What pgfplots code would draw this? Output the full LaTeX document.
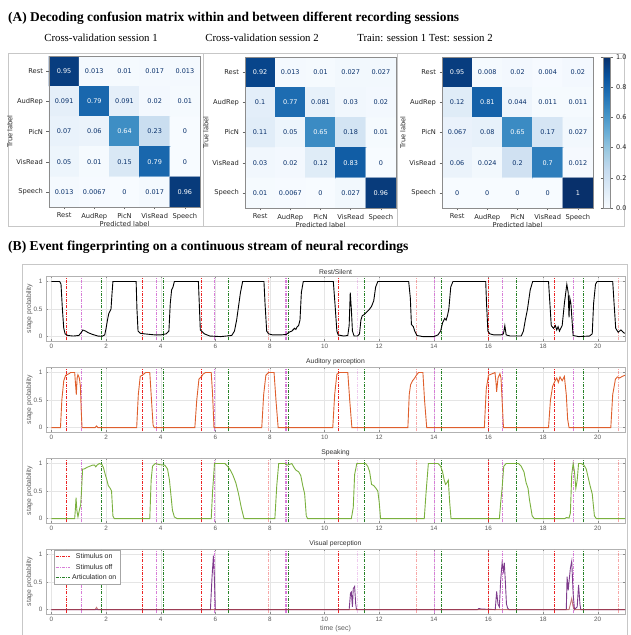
\documentclass[border=0pt]{standalone}
\usepackage{pgfplots}
\pgfplotsset{compat=1.18}
\usepackage{pgfplotstable}
\usepackage{fontspec}
\setmainfont{Liberation Serif}
\newfontfamily\dvs{DejaVu Sans}
\newfontfamily\lsf{Liberation Sans}
\definecolor{cmdark}{RGB}{8,48,107}
\definecolor{mred}{RGB}{235,35,35}
\definecolor{mmag}{RGB}{215,125,215}
\definecolor{mgreen}{RGB}{40,130,40}
\definecolor{aud}{RGB}{222,95,45}
\definecolor{spk}{RGB}{122,176,62}
\definecolor{vis}{RGB}{126,60,140}
\definecolor{vis2}{RGB}{170,60,60}
\definecolor{tsgray}{RGB}{90,90,90}
\pgfplotsset{colormap={blues}{rgb255=(247,251,255) rgb255=(222,235,247) rgb255=(198,219,239) rgb255=(158,202,225) rgb255=(107,174,214) rgb255=(66,146,198) rgb255=(33,113,181) rgb255=(8,81,156) rgb255=(8,48,107)}}

\pgfplotstableread{
x y C
0 0 0.95
1 0 0.013
2 0 0.01
3 0 0.017
4 0 0.013
0 1 0.091
1 1 0.79
2 1 0.091
3 1 0.02
4 1 0.01
0 2 0.07
1 2 0.06
2 2 0.64
3 2 0.23
4 2 0
0 3 0.05
1 3 0.01
2 3 0.15
3 3 0.79
4 3 0
0 4 0.013
1 4 0.0067
2 4 0
3 4 0.017
4 4 0.96
}\mA
\pgfplotstableread{
x y C
0 0 0.92
1 0 0.013
2 0 0.01
3 0 0.027
4 0 0.027
0 1 0.1
1 1 0.77
2 1 0.081
3 1 0.03
4 1 0.02
0 2 0.11
1 2 0.05
2 2 0.65
3 2 0.18
4 2 0.01
0 3 0.03
1 3 0.02
2 3 0.12
3 3 0.83
4 3 0
0 4 0.01
1 4 0.0067
2 4 0
3 4 0.027
4 4 0.96
}\mB
\pgfplotstableread{
x y C
0 0 0.95
1 0 0.008
2 0 0.02
3 0 0.004
4 0 0.02
0 1 0.12
1 1 0.81
2 1 0.044
3 1 0.011
4 1 0.011
0 2 0.067
1 2 0.08
2 2 0.65
3 2 0.17
4 2 0.027
0 3 0.06
1 3 0.024
2 3 0.2
3 3 0.7
4 3 0.012
0 4 0
1 4 0
2 4 0
3 4 0
4 4 1
}\mC

\pgfplotsset{
  cmaxis/.style={scale only axis, width=151pt, height=151pt, anchor=north west,
    xmin=-0.5, xmax=4.5, ymin=-0.5, ymax=4.5, y dir=reverse, enlargelimits=false,
    axis on top, colormap name=blues, point meta min=0, point meta max=1,
    xtick={0,...,4}, ytick={0,...,4},
    xticklabels={Rest,AudRep,PicN,VisRead,Speech},
    yticklabels={Rest,AudRep,PicN,VisRead,Speech},
    tick pos=left, tick align=outside, major tick length=2.5pt,
    tick style={black!60, line width=0.4pt},
    axis line style={black!45, line width=0.5pt},
    ticklabel style={font=\dvs\fontsize{6.7}{7}\selectfont, text=black!85},
    xlabel={Predicted label}, ylabel={True label},
    label style={font=\dvs\fontsize{6.7}{7}\selectfont, text=black!85},
    xlabel style={yshift=5pt}, ylabel style={yshift=-3pt},
  },
  cmtext/.style={draw=none, mark=none, point meta=explicit symbolic,
    visualization depends on={\thisrow{C}\as\cval},
    nodes near coords={\ifdim\cval pt>0.5pt\color{white}\else\color{cmdark}\fi\pgfplotspointmeta},
    nodes near coords align={center},
    every node near coord/.append style={font=\dvs\fontsize{6.5}{7}\selectfont, inner sep=0pt, anchor=center}},
  tsaxis/.style={scale only axis, width=579pt, height=65pt, anchor=north west,
    xmin=-0.2, xmax=21, ymin=-0.08, ymax=1.1,
    xtick={0,2,...,20}, ytick={0,0.5,1},
    unbounded coords=jump,
    grid=major, grid style={black!10, line width=0.3pt},
    axis line style={black!30, line width=0.4pt},
    tick style={black!45, line width=0.3pt}, major tick length=2pt, tick align=inside,
    /pgf/number format/assume math mode=true,
    ticklabel style={font=\lsf\fontsize{6.3}{7}\selectfont, text=tsgray},
    ylabel={stage probability},
    ylabel style={font=\lsf\fontsize{6.8}{7}\selectfont, text=tsgray, at={(axis description cs:-0.017,0.5)}, anchor=south},
    xlabel style={font=\lsf\fontsize{7}{8}\selectfont, text=tsgray, yshift=3pt},
    title style={font=\lsf\fontsize{6.8}{8}\selectfont, text=black!80, yshift=-5.5pt, inner sep=1pt},
    legend style={at={(0.013,0.99)}, anchor=north west, font=\lsf\fontsize{7}{8}\selectfont, draw=black!35, fill=white, inner sep=1.5pt, row sep=0pt, text=black!85},
    legend image code/.code={\draw[#1] (0pt,0pt) -- (14pt,0pt);},
  },
  evon/.style={mred, line width=0.6pt, dash pattern=on 3pt off 1.3pt on 0.8pt off 1.3pt},
  evoff/.style={mmag, line width=0.8pt, dash pattern=on 3pt off 1.3pt on 0.8pt off 1.3pt},
  evart/.style={mgreen, line width=0.6pt, dash pattern=on 3pt off 1.3pt on 0.8pt off 1.3pt},
}

\newcommand{\events}{%
\addplot[evon] coordinates {(0.53,-1)(0.53,2)(nan,nan)(3.33,-1)(3.33,2)(nan,nan)(5.47,-1)(5.47,2)(nan,nan)(10.51,-1)(10.51,2)(nan,nan)(16.0,-1)(16.0,2)(nan,nan)(18.42,-1)(18.42,2)};
\addplot[evoff] coordinates {(1.11,-1)(1.11,2)(nan,nan)(3.86,-1)(3.86,2)(nan,nan)(5.95,-1)(5.95,2)(nan,nan)(8.57,-1)(8.57,2)(nan,nan)(8.62,-1)(8.62,2)(nan,nan)(14.03,-1)(14.03,2)(nan,nan)(16.51,-1)(16.51,2)(nan,nan)(19.12,-1)(19.12,2)};
\addplot[evart] coordinates {(1.81,-1)(1.81,2)(nan,nan)(4.1,-1)(4.1,2)(nan,nan)(6.48,-1)(6.48,2)(nan,nan)(8.69,-1)(8.69,2)(nan,nan)(11.47,-1)(11.47,2)(nan,nan)(14.26,-1)(14.26,2)(nan,nan)(17.01,-1)(17.01,2)(nan,nan)(19.48,-1)(19.48,2)};
\addplot[evon, opacity=0.4, forget plot] coordinates {(7.93,-1)(7.93,2)(nan,nan)(13.36,-1)(13.36,2)(nan,nan)(20.76,-1)(20.76,2)};
\addplot[evoff, opacity=0.4, forget plot] coordinates {(11.22,-1)(11.22,2)};
}

\begin{document}
\begin{tikzpicture}
\useasboundingbox (0pt,0pt) rectangle (631pt,-635pt);
% titles
\node[anchor=base west, inner sep=0, font=\bfseries\fontsize{13.4}{15}\selectfont] at (8pt,-21pt) {(A) Decoding confusion matrix within and between different recording sessions};
\node[anchor=base, inner sep=0, font=\fontsize{10.8}{12}\selectfont] at (101pt,-41pt) {Cross-validation session 1};
\node[anchor=base, inner sep=0, font=\fontsize{10.8}{12}\selectfont] at (262pt,-41pt) {Cross-validation session 2};
\node[anchor=base, inner sep=0, font=\fontsize{10.8}{12}\selectfont] at (425pt,-41pt) {Train: session 1 Test: session 2};
\node[anchor=base west, inner sep=0, font=\bfseries\fontsize{13.6}{15}\selectfont] at (8pt,-250pt) {(B) Event fingerprinting on a continuous stream of neural recordings};
% frames
\draw[black!22, line width=0.8pt] (8pt,-53pt) rectangle (203pt,-226pt);
\draw[black!22, line width=0.8pt] (203pt,-53pt) rectangle (397pt,-226pt);
\draw[black!22, line width=0.8pt] (397pt,-53pt) rectangle (624pt,-226pt);
\draw[black!22, line width=0.8pt] (22pt,-636pt) -- (22pt,-264pt) -- (627pt,-264pt) -- (627pt,-636pt);

% confusion matrices
\begin{axis}[cmaxis, at={(49pt,-56pt)}]
\addplot[matrix plot*, mesh/cols=5, point meta=explicit] table[meta=C]{\mA};
\addplot[cmtext] table[x=x, y=y, meta=C]{\mA};
\end{axis}
\begin{axis}[cmaxis, at={(245pt,-57pt)}]
\addplot[matrix plot*, mesh/cols=5, point meta=explicit] table[meta=C]{\mB};
\addplot[cmtext] table[x=x, y=y, meta=C]{\mB};
\end{axis}
\begin{axis}[cmaxis, at={(442pt,-57pt)}, colorbar,
  colorbar style={at={(parent axis.north east)}, anchor=north west, xshift=1.5pt, width=7pt,
    ytick={0,0.2,...,1}, axis line style={black!45, line width=0.5pt},
    tick style={black!60, line width=0.4pt}, tick align=outside, major tick length=2.5pt,
    yticklabel style={font=\dvs\fontsize{6.5}{7}\selectfont, text=black!85, /pgf/number format/.cd, fixed, fixed zerofill, precision=1, assume math mode=true}}]
\addplot[matrix plot*, mesh/cols=5, point meta=explicit] table[meta=C]{\mC};
\addplot[cmtext] table[x=x, y=y, meta=C]{\mC};
\end{axis}

% time series
\begin{axis}[tsaxis, at={(46pt,-276pt)}, title={Rest/Silent}]
\events
\addplot[black, line width=0.9pt] coordinates {(0,1)(0.3,1)(0.35,0.95)(0.4,0.5)(0.45,0.15)(0.5,0.05)(0.6,0.02)(0.8,0.01)(1.0,0.02)(1.1,0.08)(1.15,0.12)(1.25,0.1)(1.35,0.07)(1.5,0.04)(1.7,0.01)(1.85,0.005)(1.95,0.03)(2.0,0.15)(2.05,0.3)(2.1,0.42)(2.15,0.47)(2.18,0.5)(2.22,0.8)(2.25,1)(3.1,1)(3.13,0.5)(3.17,0.1)(3.25,0.06)(3.4,0.05)(3.6,0.04)(3.8,0.03)(4.0,0.03)(4.2,0.05)(4.3,0.1)(4.35,0.6)(4.4,0.85)(4.45,0.9)(4.5,1)(5.38,1)(5.42,0.5)(5.45,0.12)(5.5,0.1)(5.6,0.05)(5.8,0.01)(6.2,0)(6.6,0.02)(6.7,0.1)(6.78,0.3)(6.85,0.55)(6.92,0.8)(7.0,1)(7.78,1)(7.82,0.6)(7.88,0.1)(7.95,0.05)(8.1,0.03)(8.4,0.03)(8.6,0.04)(8.7,0.08)(8.8,0.1)(8.9,0.15)(8.95,0.13)(9.0,0.18)(9.05,0.2)(9.1,0.3)(9.15,0.8)(9.22,1)(10.32,1)(10.38,0.6)(10.45,0.1)(10.5,0.03)(10.7,0.01)(10.85,0.02)(10.9,0.2)(10.94,0.8)(10.98,0.5)(11.02,0.1)(11.08,0.01)(11.2,0.01)(11.28,0.05)(11.33,0.3)(11.38,0.38)(11.45,0.4)(11.55,0.45)(11.65,0.5)(11.72,0.55)(11.8,0.65)(11.87,0.9)(11.95,1)(13.08,1)(13.14,0.7)(13.18,0.22)(13.25,0.18)(13.3,0.1)(13.38,0.02)(13.6,0)(14.0,0)(14.15,0.03)(14.25,0.1)(14.32,0.25)(14.4,0.33)(14.45,0.3)(14.5,0.38)(14.55,0.5)(14.62,0.9)(14.7,1)(15.9,1)(15.93,0.6)(15.98,0.1)(16.05,0.05)(16.2,0.03)(16.45,0.03)(16.55,0.05)(16.6,0.2)(16.65,0.03)(16.8,0.01)(17.2,0.01)(17.28,0.1)(17.35,0.3)(17.43,0.5)(17.53,0.85)(17.62,1)(18.2,1)(18.25,0.6)(18.3,0.2)(18.38,0.15)(18.45,0.2)(18.5,0.12)(18.55,0.18)(18.6,0.1)(18.7,0.2)(18.78,0.6)(18.87,0.95)(18.92,0.8)(18.95,0.35)(18.98,0.7)(19.02,0.6)(19.06,0.3)(19.1,0.02)(19.3,0)(19.7,0.01)(19.8,0.05)(19.85,0.6)(19.92,0.95)(19.98,1)(20.55,1)(20.6,0.6)(20.66,0.15)(20.75,0.08)(20.85,0.12)(20.95,0.07)(21,0.06)};
\end{axis}

\begin{axis}[tsaxis, at={(46pt,-367pt)}, title={Auditory perception}]
\events
\addplot[aud, line width=0.9pt] coordinates {(0,0)(0.33,0)(0.38,0.5)(0.45,0.85)(0.52,0.95)(0.65,0.98)(0.7,1)(0.85,1)(0.88,0.8)(0.91,0.6)(0.94,0.9)(0.97,0.96)(1.02,0.9)(1.06,0.75)(1.09,0.3)(1.12,0)(1.6,0)(1.65,0.03)(1.7,0)(3.12,0)(3.18,0.6)(3.25,0.93)(3.35,0.96)(3.45,1)(3.6,1)(3.65,0.6)(3.72,0.05)(3.76,0)(5.25,0)(5.32,0.5)(5.4,0.88)(5.5,0.93)(5.55,0.97)(5.64,1)(5.85,1)(5.9,0.6)(5.95,0)(7.7,0)(7.77,0.6)(7.85,0.95)(7.95,1)(8.15,1)(8.22,0.5)(8.3,0)(10.3,0)(10.37,0.6)(10.45,0.97)(10.55,1)(10.85,1)(10.92,0.5)(11.0,0)(13.05,0)(13.1,0.6)(13.15,0.78)(13.22,0.85)(13.3,0.9)(13.36,0.95)(13.44,1)(13.6,1)(13.66,0.5)(13.74,0)(15.85,0)(15.92,0.7)(16.0,0.95)(16.1,0.97)(16.24,1)(16.28,0.8)(16.3,0.65)(16.35,0.9)(16.42,0.98)(16.46,0.9)(16.5,0.5)(16.55,0)(18.2,0)(18.27,0.5)(18.35,0.75)(18.44,0.85)(18.5,0.9)(18.56,0.82)(18.62,0.92)(18.7,0.85)(18.78,0.93)(18.85,0.6)(18.9,0.15)(18.95,0)(20.48,0)(20.55,0.6)(20.65,0.88)(20.72,0.92)(20.8,0.9)(20.9,0.93)(21,0.95)};
\end{axis}

\begin{axis}[tsaxis, at={(46pt,-458pt)}, title={Speaking}]
\events
\addplot[spk, line width=0.9pt] coordinates {(0,0)(0.85,0)(0.88,0.2)(0.9,0.38)(0.93,0.15)(0.97,0.03)(1.02,0.15)(1.07,0.25)(1.1,0.5)(1.14,0.9)(1.2,0.9)(1.3,0.93)(1.4,0.95)(1.5,0.97)(1.58,0.97)(1.62,0.94)(1.67,0.97)(1.75,1)(1.85,0.98)(1.9,0.93)(1.97,0.8)(2.03,0.7)(2.08,0.6)(2.15,0.55)(2.2,0.5)(2.25,0.05)(2.3,0)(3.6,0)(3.65,0.7)(3.7,0.95)(3.8,1)(3.95,0.98)(4.15,0.97)(4.25,0.9)(4.32,0.7)(4.38,0.4)(4.43,0.15)(4.5,0.03)(4.6,0)(5.85,0)(5.9,0.5)(5.97,1)(6.35,1)(6.45,0.95)(6.55,0.88)(6.65,0.78)(6.75,0.65)(6.85,0.45)(6.95,0.2)(7.05,0)(8.18,0)(8.25,0.6)(8.32,1)(8.55,1)(8.62,0.97)(8.7,0.98)(8.8,1)(8.88,0.93)(8.95,0.88)(9.05,0.85)(9.13,0.78)(9.2,0.6)(9.27,0.45)(9.33,0.05)(9.38,0)(10.98,0)(11.05,0.2)(11.1,0.8)(11.18,1)(11.5,1)(11.58,0.95)(11.65,0.85)(11.72,0.62)(11.8,0.6)(11.88,0.55)(11.95,0.5)(12.0,0.3)(12.05,0)(13.65,0)(13.72,0.5)(13.8,1)(14.15,1)(14.25,0.95)(14.32,0.85)(14.38,0.7)(14.43,0.62)(14.48,0.65)(14.53,0.7)(14.58,0.3)(14.63,0)(16.4,0)(16.45,0.3)(16.5,0.55)(16.56,0.95)(16.65,1)(17.1,1)(17.2,0.95)(17.3,0.85)(17.38,0.65)(17.45,0.55)(17.5,0.35)(17.6,0.05)(17.68,0)(18.8,0)(18.85,0.02)(18.95,0.01)(19.0,0.1)(19.05,0.8)(19.1,1)(19.15,0.85)(19.2,0.55)(19.25,0.7)(19.3,1)(19.4,1)(19.5,0.97)(19.58,0.9)(19.65,0.75)(19.72,0.6)(19.8,0.45)(19.88,0.05)(19.95,0)(21,0)};
\end{axis}

\begin{axis}[tsaxis, at={(46pt,-549pt)}, title={Visual perception}, xlabel={time (sec)},
  legend entries={Stimulus on,Stimulus off,Articulation on}]
\events
\addplot[vis, line width=0.9pt] coordinates {(0,0)(5.82,0)(5.88,0.6)(5.93,0.98)(5.97,0.5)(6.0,0)(10.9,0)(10.95,0.3)(10.98,0.32)(11.02,0.05)(11.05,0.38)(11.1,0.42)(11.14,0.1)(11.17,0)(15.6,0)(15.65,0.02)(15.75,0.01)(16.25,0)(16.3,0.33)(16.35,0.1)(16.4,0.05)(16.45,0.55)(16.5,0.85)(16.55,0.7)(16.58,0.85)(16.62,0.5)(16.66,0.1)(16.7,0.03)(16.75,0)(18.85,0)(18.88,0.6)(18.92,0.35)(18.95,0.5)(19.0,0.75)(19.05,0.88)(19.1,0.3)(19.15,0)(19.25,0.05)(19.3,0.45)(19.35,0.1)(19.38,0)(21,0)};
\addplot[vis2, opacity=0.7, line width=0.9pt] coordinates {(0,0)(1.6,0)(1.65,0.04)(1.7,0)(18.95,0)(19.0,0.1)(19.05,0.2)(19.1,0.05)(19.15,0)(21,0)};
\end{axis}
\end{tikzpicture}
\end{document}
